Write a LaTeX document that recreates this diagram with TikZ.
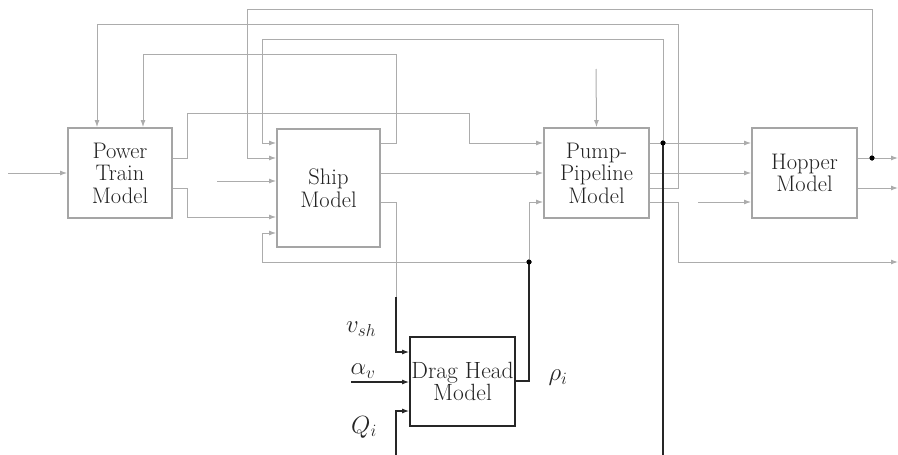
\documentclass[tikz,border=0pt]{standalone}
\usetikzlibrary{arrows.meta}
\definecolor{linegray}{RGB}{172,172,172}
\definecolor{boxgray}{RGB}{165,165,165}
\definecolor{textgray}{RGB}{35,35,35}
\begin{document}
\begin{tikzpicture}[x=1pt,y=-1pt,
  box/.style={draw=boxgray, line width=1.8pt, fill=white, text=textgray, align=center,
    font=\fontsize{22.5}{22.5}\selectfont, inner sep=0pt},
  gl/.style={draw=linegray, line width=1pt},
  ga/.style={gl, -{Latex[length=7pt,width=5pt]}},
  bl/.style={draw=black!85, line width=1.1pt},
  ba/.style={bl, -{Latex[length=7pt,width=5pt]}},
  dot/.style={circle, fill=black, inner sep=0pt, minimum size=5pt},
  lab/.style={font=\fontsize{26}{28}\selectfont, text=black!85}]
\useasboundingbox (0,0) rectangle (898,455);
% boxes
\node[box, minimum width=104pt, minimum height=90pt] (pt) at (120,173) {Power\\Train\\Model};
\node[box, minimum width=103pt, minimum height=118pt] (ship) at (328.5,188) {Ship\\Model};
\node[box, minimum width=105pt, minimum height=90pt] (pump) at (596.5,173) {Pump-\\Pipeline\\Model};
\node[box, minimum width=105pt, minimum height=90pt] (hop) at (804.5,173) {Hopper\\Model};
\node[box, draw=black!85, minimum width=105pt, minimum height=89pt, font=\fontsize{23.5}{21.5}\selectfont] (drag) at (462.5,381.5) {Drag Head\\Model};
% free ends and junctions
\coordinate (in1) at (8,173);
\coordinate (sin) at (217,181);
\coordinate (ptop) at (596,69);
\coordinate (hin) at (698,202);
\coordinate (o1) at (898,158);
\coordinate (o2) at (898,188);
\coordinate (o3) at (898,262);
\coordinate (vsh) at (396,297);
\coordinate (av) at (351,382);
\coordinate (qi) at (396,455);
\coordinate (bot) at (663,455);
\node[dot] (d1) at (663,143) {};
\node[dot] (d2) at (529,262) {};
\node[dot] (d3) at (872,158) {};
% gray connectors
\draw[ga] (in1) -- (pt.west);
\draw[ga] (pt.east |- 0,158) -| (187,113) -| (469,143) -- (pump.west |- 0,143);
\draw[ga] (pt.east |- 0,188) -| (187,217) -- (ship.west |- 0,217);
\draw[ga] (ship.east |- 0,143) -| (396,54) -| (143,0 |- pt.north);
\draw[ga] (ship.east |- 0,173) -- (pump.west |- 0,173);
\draw[gl] (ship.east |- 0,202) -| (vsh);
\draw[ga] (sin) -- (ship.west |- 0,181);
\draw[ga] (d3.center) |- (247,9) |- (ship.west |- 0,158);
\draw[ga] (pump.east |- 0,188) -| (678,24) -| (97,0 |- pt.north);
\draw[ga] (d1.center) |- (262,39) |- (ship.west |- 0,143);
\draw[ga] (pump.east |- 0,143) -- (hop.west |- 0,143);
\draw[ga] (ptop) -- (pump.north);
\draw[ga] (pump.east |- 0,173) -- (hop.west |- 0,173);
\draw[ga] (pump.east |- 0,202) -| (678,262) -- (o3);
\draw[ga] (hin) -- (hop.west |- 0,202);
\draw[ga] (hop.east |- 0,158) -- (o1);
\draw[ga] (hop.east |- 0,188) -- (o2);
\draw[ga] (d2.center) |- (pump.west |- 0,202);
\draw[ga] (d2.center) -| (262,233) -- (ship.west |- 0,233);
% black connectors
\draw[bl] (d1.center) -- (bot);
\draw[ba] (vsh) |- (drag.west |- 0,352);
\draw[ba] (av) -- (drag.west |- 0,382);
\draw[ba] (qi) |- (drag.west |- 0,411);
\draw[bl] (drag.east |- 0,381) -| (d2.center);
% redraw dots on top
\node[dot] at (d1) {};
\node[dot] at (d2) {};
\node[dot] at (d3) {};
% labels
\node[lab] (lv) at (361,329) {$v_{sh}$};
\node[lab] (la) at (363,371) {$\alpha_v$};
\node[lab] (lq) at (364,427) {$Q_i$};
\node[lab] (lr) at (558,378) {$\rho_i$};
\end{tikzpicture}
\end{document}
